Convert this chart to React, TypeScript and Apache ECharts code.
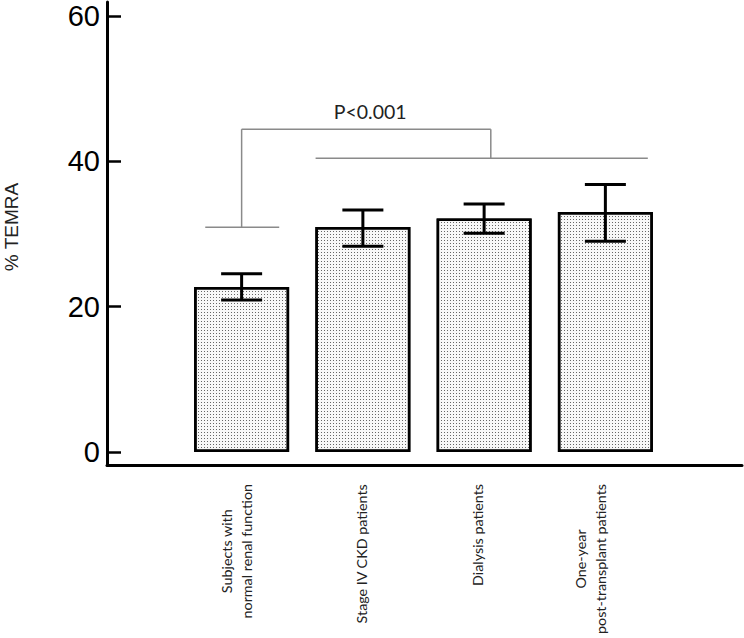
import React, { useEffect, useRef } from 'react';
import * as echarts from 'echarts';

const CATEGORIES = [
  'Subjects with\nnormal renal function',
  'Stage IV CKD patients',
  'Dialysis patients',
  'One-year\npost-transplant patients',
];
const MEANS = [22.7, 30.95, 32.1, 33.0];
const ERR_UPPER = [24.5, 33.3, 34.1, 36.8];
const ERR_LOWER = [20.9, 28.3, 30.1, 29.0];
const Y_TICKS = [0, 20, 40, 60];
const Y_TITLE = '% TEMRA';
const P_LABEL = 'P<0.001';
const GROUP_LEVEL = 30.9;
const COMPARE_LEVEL = 40.4;
const TOP_LEVEL = 44.4;
const P_LEVEL = 46.9;

const LABEL_FONT = 'Lato, "Open Sans", sans-serif';
// small leftward nudges of the rotated category labels, as in the original figure
const LABEL_NUDGE = [10, 3, 14, 29];

export default function App() {
  const ref = useRef<HTMLDivElement>(null);
  useEffect(() => {
    document.body.style.margin = '0';
    const chart = echarts.init(ref.current!, null, { renderer: 'svg' });
    const gray = { stroke: '#8a8a8a', lineWidth: 1.5 };
    const option: any = {
      animation: false,
      backgroundColor: '#fff',
      grid: [
        { left: 181, width: 485, top: 2, bottom: 173 },
        { left: 107, right: 2, top: 2, bottom: 173 },
      ],
      xAxis: [
        {
          type: 'category',
          gridIndex: 0,
          data: CATEGORIES.map((c, i) => ({
            value: c,
            textStyle: { padding: [0, 0, LABEL_NUDGE[i], 0] },
          })),
          boundaryGap: true,
          axisLine: { show: false },
          axisTick: {
            show: true,
            alignWithLabel: true,
            inside: true,
            length: 13,
            lineStyle: { color: '#000', width: 2 },
          },
          axisLabel: {
            rotate: 90,
            margin: 19,
            interval: 0,
            formatter: (v: string) =>
              v
                .split('\n')
                .map((l) => `{c|${l}}`)
                .join('\n'),
            rich: {
              c: {
                align: 'center',
                fontFamily: LABEL_FONT,
                fontSize: 14.3,
                lineHeight: 20,
                color: '#222',
              },
            },
          },
          splitLine: { show: false },
        },
        {
          type: 'value',
          gridIndex: 1,
          min: 0,
          max: 1,
          axisLine: { show: true, onZero: false, lineStyle: { color: '#000', width: 3 } },
          axisTick: { show: false },
          axisLabel: { show: false },
          splitLine: { show: false },
        },
      ],
      yAxis: [
        {
          type: 'value',
          gridIndex: 0,
          min: -1.8,
          max: 61.9,
          offset: 74,
          axisLine: { show: true, onZero: false, lineStyle: { color: '#000', width: 3 } },
          axisTick: {
            show: true,
            inside: true,
            length: 14,
            customValues: Y_TICKS,
            lineStyle: { color: '#000', width: 2.5 },
          },
          axisLabel: {
            customValues: Y_TICKS,
            margin: 7,
            fontFamily: '"Liberation Sans", Arial, sans-serif',
            fontSize: 29,
            color: '#000',
          },
          splitLine: { show: false },
        },
        { type: 'value', gridIndex: 1, show: false, min: 0, max: 1 },
      ],
      series: [
        {
          type: 'bar',
          xAxisIndex: 0,
          yAxisIndex: 0,
          data: MEANS,
          barWidth: 95,
          z: 2,
          itemStyle: {
            color: '#f8f8f8',
            borderColor: '#000',
            borderWidth: 2.5,
            decal: {
              symbol: 'rect',
              symbolSize: 1,
              color: '#666',
              dashArrayX: [1, 2],
              dashArrayY: [1, 2],
            },
          },
        },
        {
          type: 'custom',
          xAxisIndex: 0,
          yAxisIndex: 0,
          z: 3,
          data: MEANS.map((_, i) => [i, ERR_LOWER[i], ERR_UPPER[i]]),
          renderItem: (params: any, api: any) => {
            const i = api.value(0);
            const lo = api.coord([i, api.value(1)]);
            const hi = api.coord([i, api.value(2)]);
            const half = 20.5;
            const st = { stroke: '#000', lineWidth: 3 };
            return {
              type: 'group',
              children: [
                { type: 'line', shape: { x1: lo[0], y1: lo[1], x2: hi[0], y2: hi[1] }, style: st },
                { type: 'line', shape: { x1: lo[0] - half, y1: lo[1], x2: lo[0] + half, y2: lo[1] }, style: st },
                { type: 'line', shape: { x1: hi[0] - half, y1: hi[1], x2: hi[0] + half, y2: hi[1] }, style: st },
              ],
            };
          },
        },
        {
          type: 'custom',
          xAxisIndex: 0,
          yAxisIndex: 0,
          z: 3,
          data: [[0, GROUP_LEVEL]],
          renderItem: (params: any, api: any) => {
            const band = api.size([1, 0])[0];
            const pt = (cat: number, off: number, y: number) => {
              const c = api.coord([cat, y]);
              return [c[0] + off * band, c[1]];
            };
            const seg = (a: number[], b: number[]) => ({
              type: 'line',
              shape: { x1: a[0], y1: a[1], x2: b[0], y2: b[1] },
              style: gray,
            });
            const p = pt(1, 0.06, P_LEVEL);
            return {
              type: 'group',
              children: [
                seg(pt(0, -0.3, GROUP_LEVEL), pt(0, 0.31, GROUP_LEVEL)),
                seg(pt(0, 0, GROUP_LEVEL), pt(0, 0, TOP_LEVEL)),
                seg(pt(0, 0, TOP_LEVEL), pt(2, 0.055, TOP_LEVEL)),
                seg(pt(2, 0.055, TOP_LEVEL), pt(2, 0.055, COMPARE_LEVEL)),
                seg(pt(1, -0.39, COMPARE_LEVEL), pt(3, 0.35, COMPARE_LEVEL)),
                {
                  type: 'text',
                  x: p[0],
                  y: p[1],
                  style: {
                    text: P_LABEL,
                    align: 'center',
                    verticalAlign: 'middle',
                    fontFamily: LABEL_FONT,
                    fontSize: 19.5,
                    fill: '#222',
                  },
                },
              ],
            };
          },
        },
      ],
      graphic: [
        {
          type: 'text',
          x: 11,
          y: 227,
          rotation: Math.PI / 2,
          style: {
            text: Y_TITLE,
            align: 'center',
            verticalAlign: 'middle',
            fontFamily: '"Liberation Sans", Arial, sans-serif',
            fontSize: 19,
            fill: '#222',
          },
        },
      ],
    };
    chart.setOption(option);
    return () => chart.dispose();
  }, []);
  return <div ref={ref} style={{ width: 744, height: 638 }} />;
}
